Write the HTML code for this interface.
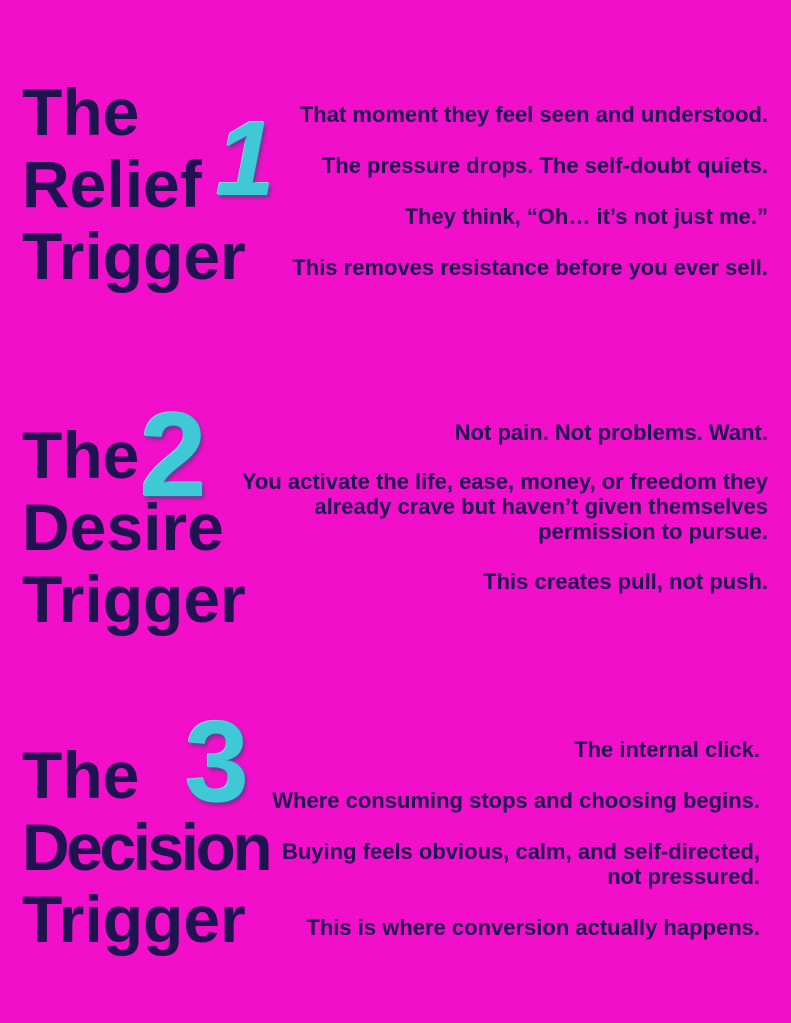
<!DOCTYPE html>
<html><head><meta charset="utf-8"><style>
body{margin:0;width:791px;height:1023px;background:#F20FC9;position:relative;overflow:hidden;font-family:"Liberation Sans",sans-serif;color:#1E1250}
.t{position:absolute;left:22px;font-weight:bold;font-size:66px;line-height:72px;letter-spacing:0;white-space:nowrap}
.r{position:absolute;font-weight:bold;font-size:22px;line-height:25px;text-align:right;white-space:nowrap}
.n{position:absolute;font-weight:bold;font-family:"Liberation Sans",sans-serif;color:#3FC9D6;text-shadow:0 0 2px #1a8fa0,2px 3px 3px rgba(0,80,100,.5),-1px -1px 0 #a8f0f5;line-height:1}
</style></head><body>
<div class="t" style="top:76px">The<br>Relief<br>Trigger</div>
<div class="n" style="left:216px;top:106px;font-size:106px;font-style:italic">1</div>
<div class="r" style="right:23px;top:102px">That moment they feel seen and understood.</div>
<div class="r" style="right:23px;top:153px">The pressure drops. The self-doubt quiets.</div>
<div class="r" style="right:23px;top:204px">They think, “Oh… it’s not just me.”</div>
<div class="r" style="right:23px;top:255px">This removes resistance before you ever sell.</div>

<div class="t" style="top:419px">The<br>Desire<br>Trigger</div>
<div class="n" style="left:140px;top:395px;font-size:120px">2</div>
<div class="r" style="right:23px;top:420px">Not pain. Not problems. Want.</div>
<div class="r" style="right:23px;top:469px">You activate the life, ease, money, or freedom they<br>already crave but haven’t given themselves<br>permission to pursue.</div>
<div class="r" style="right:23px;top:569px">This creates pull, not push.</div>

<div class="t" style="top:739px">The<br><span style="letter-spacing:-3.5px">Decision</span><br>Trigger</div>
<div class="n" style="left:185px;top:705px;font-size:115px">3</div>
<div class="r" style="right:31px;top:737px">The internal click.</div>
<div class="r" style="right:31px;top:788px">Where consuming stops and choosing begins.</div>
<div class="r" style="right:31px;top:839px">Buying feels obvious, calm, and self-directed,<br>not pressured.</div>
<div class="r" style="right:31px;top:915px">This is where conversion actually happens.</div>
</body></html>
